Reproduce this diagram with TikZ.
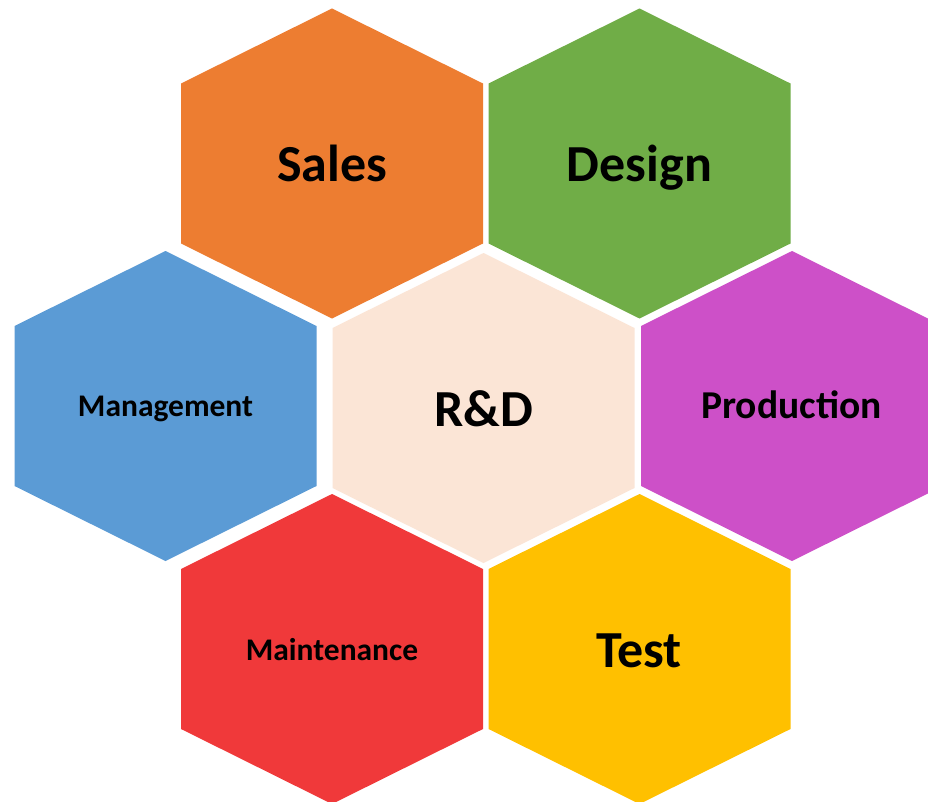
\documentclass[tikz,border=0pt]{standalone}
\usepackage{fontspec}
\setmainfont{Carlito}
\definecolor{csales}{HTML}{ED7D31}
\definecolor{cdesign}{HTML}{70AD47}
\definecolor{cmgmt}{HTML}{5B9BD5}
\definecolor{crd}{HTML}{FBE5D6}
\definecolor{cprod}{HTML}{CD50C8}
\definecolor{cmaint}{HTML}{F0393A}
\definecolor{ctest}{HTML}{FFC000}
\newcommand{\hexpath}[3]{%
  \fill[#3] (#1,#2) +(0,-155) -- +(151,-80) -- +(151,80) -- +(0,155) -- +(-151,80) -- +(-151,-80) -- cycle;}
\tikzset{
  biglabel/.style={anchor=base, inner sep=0pt, font=\bfseries\fontsize{52}{60}\selectfont, text=black},
  midlabel/.style={anchor=base, inner sep=0pt, font=\bfseries\fontsize{39.5}{44}\selectfont, text=black},
  smalllabel/.style={anchor=base, inner sep=0pt, font=\bfseries\fontsize{31.5}{36}\selectfont, text=black}
}
\begin{document}
\begin{tikzpicture}[x=1pt,y=-1pt]
\clip (0,0) rectangle (928,802);
\fill[white] (0,0) rectangle (928,802);
\hexpath{332}{163.5}{csales}
\hexpath{639.5}{163.5}{cdesign}
\hexpath{165.5}{406}{cmgmt}
\hexpath{483.5}{408}{crd}
\hexpath{792}{406}{cprod}
\hexpath{332}{649}{cmaint}
\hexpath{639.5}{649}{ctest}
\node[biglabel] (sales) at (332,181.7) {Sales};
\node[biglabel] (design) at (639.5,181.7) {Design};
\node[biglabel] (rd) at (483.5,426) {R\&D};
\node[smalllabel] (mgmt) at (165.5,416.7) {Management};
\node[midlabel] (prod) at (791.5,418) {Production};
\node[smalllabel] (maint) at (332,660) {Maintenance};
\node[biglabel] (test) at (639,667) {Test};
\end{tikzpicture}
\end{document}
